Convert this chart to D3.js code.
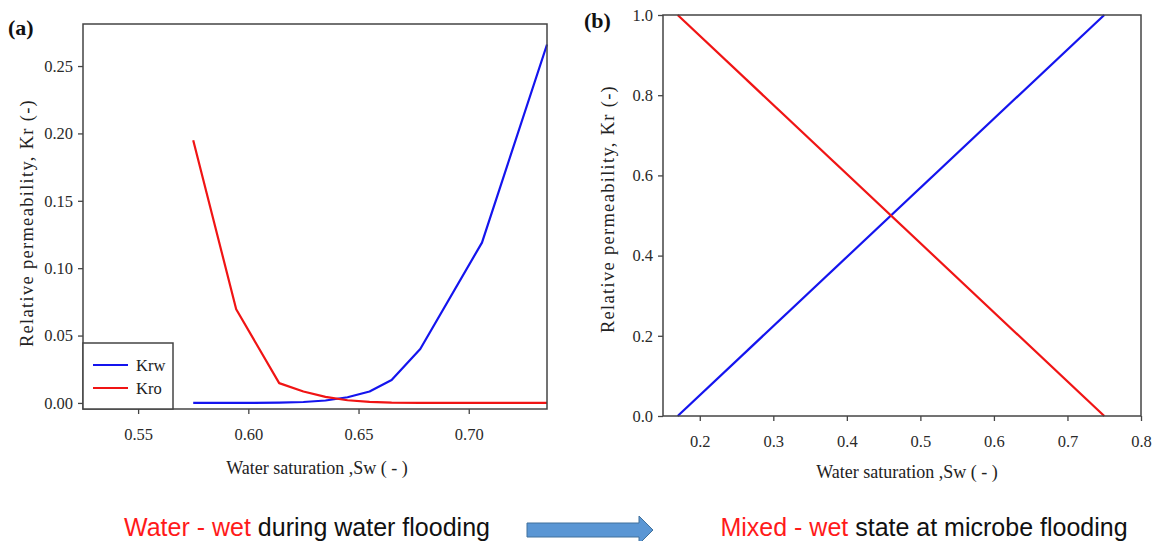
<!DOCTYPE html>
<html>
<head>
<meta charset="utf-8">
<script src="https://cdn.jsdelivr.net/npm/d3@7"></script>
<style>
  html, body { margin: 0; padding: 0; background: #fff; }
  svg { display: block; }
</style>
</head>
<body>
<svg id="chart" width="1156" height="541"></svg>
<script>
// Panel (a): water-wet relative permeability during water flooding
const swA  = [0.575, 0.5945, 0.614, 0.625, 0.635, 0.645, 0.655, 0.665, 0.678, 0.706, 0.7355];
const krwA = [0.000, 0.000, 0.0002, 0.0007, 0.0018, 0.0042, 0.0085, 0.017, 0.040, 0.119, 0.266];
const kroA = [0.195, 0.0695, 0.0147, 0.0085, 0.0045, 0.0020, 0.0008, 0.0002, 0.000, 0.000, 0.000];
const xTicksA = [0.55, 0.60, 0.65, 0.70];
const yTicksA = [0.00, 0.05, 0.10, 0.15, 0.20, 0.25];

// Panel (b): mixed-wet relative permeability at microbe flooding
const swB  = [0.17, 0.75];
const krwB = [0.0, 1.0];
const kroB = [1.0, 0.0];
const xTicksB = [0.2, 0.3, 0.4, 0.5, 0.6, 0.7, 0.8];
const yTicksB = [0.0, 0.2, 0.4, 0.6, 0.8, 1.0];

const legendLabels = ["Krw", "Kro"];
const seriesColors = ["#1414ee", "#f01414"];

const svg = d3.select("#chart");
const serif = '"Liberation Serif", "Times New Roman", serif';
const sans = '"Liberation Sans", Arial, sans-serif';

function styleAxis(sel) {
  sel.attr("font-family", serif).attr("font-size", 16.5);
  sel.select(".domain").remove();
  sel.selectAll(".tick line").attr("stroke", "#444").attr("stroke-width", 1.3);
  sel.selectAll(".tick text")
    .attr("font-family", serif).attr("font-size", 16.5).attr("fill", "#2a2a2a");
}

function panel(opts) {
  const { x, y, xTicks, yTicks, fmt, sw, series, letter, letterPos, xLabelPos, yLabelPos } = opts;
  const [x0, x1] = x.range();
  const [y0, y1] = y.range();
  const g = svg.append("g");

  g.append("g")
    .attr("transform", `translate(0,${y0})`)
    .call(d3.axisBottom(x).tickValues(xTicks).tickFormat(d3.format(fmt.x)).tickSize(5).tickPadding(14))
    .call(styleAxis)
    .call(s => s.selectAll(".tick text").attr("dy", "0.71em"));
  g.append("g")
    .attr("transform", `translate(${x0},0)`)
    .call(d3.axisLeft(y).tickValues(yTicks).tickFormat(d3.format(fmt.y)).tickSize(5).tickPadding(5))
    .call(styleAxis);

  const line = d3.line().x(d => x(d[0])).y(d => y(d[1]));
  series.forEach((vals, i) => {
    g.append("path")
      .datum(sw.map((s, k) => [s, vals[k]]))
      .attr("d", line)
      .attr("fill", "none")
      .attr("stroke", seriesColors[i])
      .attr("stroke-width", 2.2)
      .attr("stroke-linejoin", "round");
  });

  g.append("rect")
    .attr("x", x0).attr("y", y1)
    .attr("width", x1 - x0).attr("height", y0 - y1)
    .attr("fill", "none").attr("stroke", "#444").attr("stroke-width", 1.5);

  g.append("text")
    .attr("x", letterPos[0]).attr("y", letterPos[1])
    .attr("font-family", serif).attr("font-weight", "bold").attr("font-size", 22)
    .attr("fill", "#111")
    .text(letter);

  g.append("text")
    .attr("x", xLabelPos[0]).attr("y", xLabelPos[1])
    .attr("text-anchor", "middle")
    .attr("font-family", serif).attr("font-size", 18).attr("fill", "#222")
    .text("Water saturation ,Sw ( - )");

  g.append("text")
    .attr("transform", `translate(${yLabelPos[0]},${yLabelPos[1]}) rotate(-90)`)
    .attr("text-anchor", "middle")
    .attr("font-family", serif).attr("font-size", 18.5).attr("letter-spacing", 1.3).attr("fill", "#222")
    .text("Relative permeability, Kr (-)");

  return g;
}

const xA = d3.scaleLinear().domain([0.525, 0.7355]).range([83, 547]);
const yA = d3.scaleLinear().domain([-0.0045, 0.2812]).range([409, 24]);
const gA = panel({
  x: xA, y: yA, xTicks: xTicksA, yTicks: yTicksA, fmt: { x: ".2f", y: ".2f" },
  sw: swA, series: [krwA, kroA], letter: "(a)", letterPos: [8, 35],
  xLabelPos: [317, 474], yLabelPos: [33, 223]
});

// legend box in the lower-left corner of panel (a)
const lg = gA.append("g");
lg.append("rect")
  .attr("x", 83).attr("y", 343).attr("width", 90).attr("height", 66)
  .attr("fill", "#fff").attr("stroke", "#444").attr("stroke-width", 1.5);
legendLabels.forEach((lab, i) => {
  const yy = 365 + i * 23;
  lg.append("line")
    .attr("x1", 93).attr("x2", 128).attr("y1", yy).attr("y2", yy)
    .attr("stroke", seriesColors[i]).attr("stroke-width", 2.2);
  lg.append("text")
    .attr("x", 136).attr("y", yy + 6)
    .attr("font-family", serif).attr("font-size", 16.5).attr("fill", "#222")
    .text(lab);
});

const xB = d3.scaleLinear().domain([0.15, 0.8]).range([663, 1141]);
const yB = d3.scaleLinear().domain([0, 1]).range([416, 15]);
panel({
  x: xB, y: yB, xTicks: xTicksB, yTicks: yTicksB, fmt: { x: ".1f", y: ".1f" },
  sw: swB, series: [krwB, kroB], letter: "(b)", letterPos: [584, 28],
  xLabelPos: [907, 478], yLabelPos: [614, 209]
});

// captions and transition arrow
function caption(cx, red, black) {
  const t = svg.append("text")
    .attr("x", cx).attr("y", 536)
    .attr("text-anchor", "middle")
    .attr("font-family", sans).attr("font-size", 25);
  t.append("tspan").attr("fill", "#ff1a1a").text(red);
  t.append("tspan").attr("fill", "#111").text(" " + black);
}
caption(307, "Water - wet", "during water flooding");
caption(924, "Mixed - wet", "state at microbe flooding");

svg.append("path")
  .attr("d", "M527,523 L639,523 L639,516 L653,530 L639,544 L639,537 L527,537 Z")
  .attr("fill", "#5a96d4")
  .attr("stroke", "#41719c")
  .attr("stroke-width", 1);
</script>
</body>
</html>
